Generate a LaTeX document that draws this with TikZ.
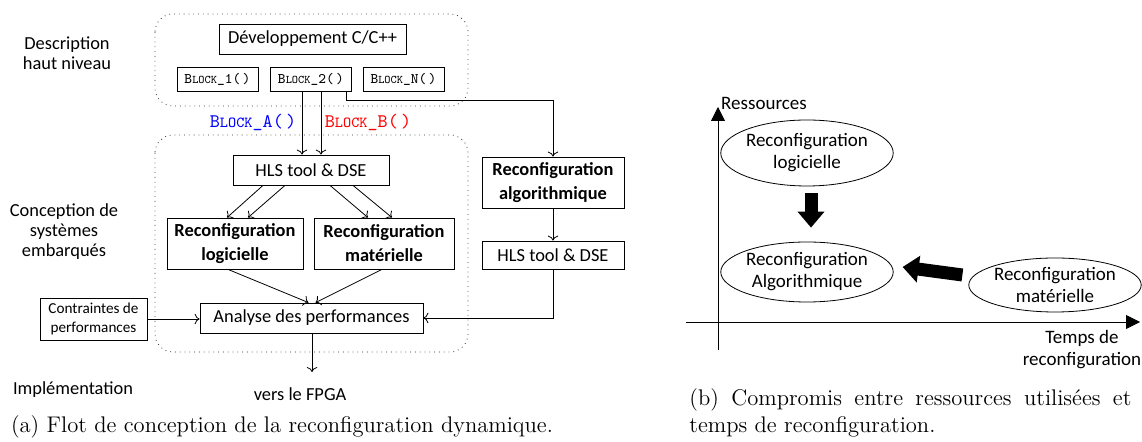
\documentclass[tikz,border=0pt]{standalone}
\usepackage{fontspec}
\newfontfamily\calib{Carlito}
\usetikzlibrary{arrows.meta,shapes.geometric}
\tikzset{
  box/.style={draw, align=center, inner sep=0pt, font=\calib\fontsize{9.2}{11}\selectfont},
  blkbox/.style={draw, inner sep=0pt, minimum width=40.5pt, minimum height=12pt},
  lbl/.style={align=center, font=\calib\fontsize{9.2}{10}\selectfont},
  zone/.style={draw=black!80, dotted, rounded corners=9pt},
  oval/.style={draw, ellipse, align=center, inner sep=0pt, font=\calib\fontsize{9.5}{11}\selectfont},
  fat/.style={line width=6.5pt, -{Triangle[length=8pt,width=13pt]}},
  capt/.style={font=\fontsize{11.3}{13.5}\selectfont}
}
% petites capitales simulees en machine a ecrire
\newcommand{\blk}[2]{{\ttfamily\fontsize{#1}{#1}\selectfont B{\fontsize{0.8\dimexpr#1pt\relax}{#1}\selectfont LOCK}\_#2(\,)}}
\begin{document}
\begin{tikzpicture}[x=0.5pt,y=-0.5pt]
  \useasboundingbox (0,0) rectangle (1142,442);
  % flot de conception
  \draw[zone] (155,14) rectangle (468,106);
  \draw[zone] (155,135) rectangle (468,352);
  \node[lbl] (desc) at (67,53) {Description\\haut niveau};
  \node[lbl] (conc) at (64,232) {Conception de\\systèmes\\embarqués};
  \node[lbl] (impl) at (73,390) {Implémentation};
  \node[box, minimum width=93.5pt, minimum height=15pt] (dev) at (312.5,39) {Développement C/C++};
  \node[blkbox] (b1) at (217.5,79) {\blk{7.3}{1}};
  \node[blkbox] (b2) at (311,79) {\blk{7.3}{2}};
  \node[blkbox] (bN) at (403.5,79) {\blk{7.3}{N}};
  \node[text=blue] (la) at (253,122) {\blk{9.6}{A}};
  \node[text=red] (lb) at (368,122) {\blk{9.6}{B}};
  \node[box, minimum width=78pt, minimum height=15pt] (hls) at (311,170) {HLS tool \& DSE};
  \node[box, font=\calib\bfseries\fontsize{9.2}{12}\selectfont, minimum width=68pt, minimum height=25.5pt] (log) at (235,243.5) {Reconfiguration\\logicielle};
  \node[box, font=\calib\bfseries\fontsize{9.2}{12}\selectfont, minimum width=70pt, minimum height=25.5pt] (mat) at (384,243.5) {Reconfiguration\\matérielle};
  \node[box, minimum width=111.5pt, minimum height=15pt] (ana) at (311.5,318) {Analyse des performances};
  \node[box, font=\calib\fontsize{7.6}{9.5}\selectfont, minimum width=53.5pt, minimum height=21pt] (con) at (93.5,319) {Contraintes de\\performances};
  \node[box, font=\calib\bfseries\fontsize{9.2}{12}\selectfont, minimum width=71pt, minimum height=25.5pt] (alg) at (553,182.5) {Reconfiguration\\algorithmique};
  \node[box, minimum width=71pt, minimum height=14pt] (hls2) at (553,255) {HLS tool \& DSE};
  \node[lbl] (fpga) at (300,394) {vers le FPGA};
  \coordinate (fend) at (312,372);
  \draw[->] ([xshift=-4.5pt]b2.south) -- ([xshift=-4.5pt]b2.south |- hls.north);
  \draw[->] ([xshift=5pt]b2.south) -- ([xshift=5pt]b2.south |- hls.north);
  \draw[->] ([xshift=17.5pt]b2.south) -- ++(0,9) -| (alg.north);
  \draw[->] ([xshift=-24pt]hls.south) -- ([xshift=-4pt]log.north);
  \draw[->] ([xshift=-13pt]hls.south) -- ([xshift=6.5pt]log.north);
  \draw[->] ([xshift=9.5pt]hls.south) -- ([xshift=-8pt]mat.north);
  \draw[->] ([xshift=21pt]hls.south) -- ([xshift=4pt]mat.north);
  \draw[->] ([xshift=-3.5pt]log.south) -- ([xshift=-1.5pt]ana.north);
  \draw[->] ([xshift=-1pt]mat.south) -- ([xshift=2pt]ana.north);
  \draw[->] (con.east) -- (con.east -| ana.west);
  \draw[->] (alg.south) -- (hls2.north);
  \draw[->] (hls2.south) |- (ana.east);
  \draw[->] (ana.south -| fend) -- (fend);
  \node[capt] (capa) at (282,427) {(a) Flot de conception de la reconfiguration dynamique.};
  % compromis
  \draw[-{Triangle[length=7pt,width=7pt]}] (718,350) -- (718,107);
  \draw[-{Triangle[length=7pt,width=7pt]}] (686,322) -- (1140,322);
  \node[lbl, font=\calib\fontsize{9.5}{11}\selectfont] (ress) at (764,103) {Ressources};
  \node[lbl, font=\calib\fontsize{9.5}{11}\selectfont] (temps) at (1082,350) {Temps de\\reconfiguration};
  \node[oval, minimum width=81pt, minimum height=33pt] (elog) at (807,153) {Reconfiguration\\logicielle};
  \node[oval, minimum width=81.5pt, minimum height=30pt] (ealg) at (807,272) {Reconfiguration\\Algorithmique};
  \node[oval, minimum width=82pt, minimum height=27pt] (emat) at (1055,285) {Reconfiguration\\matérielle};
  \draw[fat, shorten <=3.5pt, shorten >=7pt] ([xshift=2pt]elog.south) -- ([xshift=2pt]ealg.north);
  \draw[fat] ([xshift=-3pt,yshift=5pt]emat.west) -- ([xshift=4.5pt,yshift=2.5pt]ealg.east);
  \node[capt, align=justify, text width=221pt, inner sep=0pt, anchor=west] (capb) at (689,413) {(b) Compromis entre ressources utilisées et temps de reconfiguration.};
\end{tikzpicture}
\end{document}
